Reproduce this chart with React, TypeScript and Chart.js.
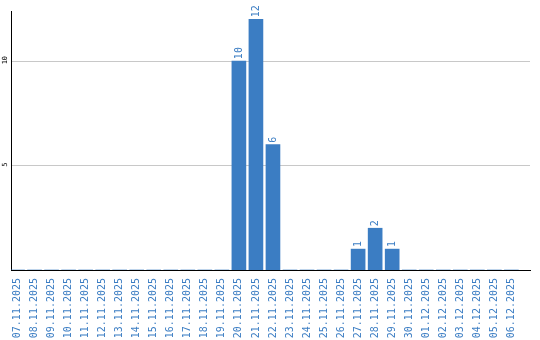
import React, { useEffect, useRef } from "react";
import { Chart, registerables } from "chart.js";

Chart.register(...registerables);

const categories = [
  "07.11.2025", "08.11.2025", "09.11.2025", "10.11.2025", "11.11.2025", "12.11.2025",
  "13.11.2025", "14.11.2025", "15.11.2025", "16.11.2025", "17.11.2025", "18.11.2025",
  "19.11.2025", "20.11.2025", "21.11.2025", "22.11.2025", "23.11.2025", "24.11.2025",
  "25.11.2025", "26.11.2025", "27.11.2025", "28.11.2025", "29.11.2025", "30.11.2025",
  "01.12.2025", "02.12.2025", "03.12.2025", "04.12.2025", "05.12.2025", "06.12.2025",
];
const values = [0, 0, 0, 0, 0, 0, 0, 0, 0, 0, 0, 0, 0, 10, 12, 6, 0, 0, 0, 0, 1, 2, 1, 0, 0, 0, 0, 0, 0, 0];
const yTicks = [5, 10];

const BLUE = "#3b7dc3";
const FONT = "'DejaVu Sans Mono', monospace";

export default function App() {
  const ref = useRef<HTMLCanvasElement | null>(null);
  useEffect(() => {
    document.body.style.margin = "0";
    const canvas = ref.current!;
    const labelPlugin = {
      id: "customLabels",
      afterDatasetsDraw(chart: any) {
        const ctx = chart.ctx;
        const meta = chart.getDatasetMeta(0);
        ctx.save();
        ctx.font = `10px ${FONT}`;
        ctx.fillStyle = BLUE;
        ctx.textAlign = "left";
        ctx.textBaseline = "middle";
        meta.data.forEach((el: any, i: number) => {
          const v = values[i];
          if (!v) return;
          ctx.save();
          ctx.translate(el.x + 0.5, el.y - 2);
          ctx.rotate(-Math.PI / 2);
          ctx.fillText(String(v), 0, 0);
          ctx.restore();
        });
        const ys = chart.scales.y;
        ctx.fillStyle = "#000";
        ctx.font = `7px ${FONT}`;
        ctx.textAlign = "center";
        yTicks.forEach((t) => {
          ctx.save();
          ctx.translate(5.5, ys.getPixelForValue(t) - 1);
          ctx.rotate(-Math.PI / 2);
          ctx.fillText(String(t), 0, 0);
          ctx.restore();
        });
        ctx.restore();
      },
    };
    const chart = new Chart(canvas, {
      type: "bar",
      data: {
        datasets: [
          {
            data: values.map((v, i) => ({ x: i, y: v })),
            backgroundColor: BLUE,
            barThickness: 14,
          },
        ],
      },
      options: {
        animation: false,
        responsive: false,
        maintainAspectRatio: false,
        layout: { padding: { left: 11, right: 10, top: 11, bottom: 0 } },
        plugins: { legend: { display: false }, tooltip: { enabled: false } },
        scales: {
          x: {
            type: "linear",
            offset: false,
            min: -0.382,
            max: 30.093,
            afterBuildTicks: (axis: any) => {
              axis.ticks = categories.map((_, i) => ({ value: i }));
            },
            afterFit: (axis: any) => {
              axis.height = 70;
              axis.paddingLeft = 0;
              axis.paddingRight = 0;
            },
            grid: { display: false, drawTicks: false, offset: false },
            border: { display: true, color: "#000", width: 1 },
            ticks: {
              autoSkip: false,
              maxRotation: 90,
              minRotation: 90,
              padding: 8,
              color: BLUE,
              font: { family: FONT, size: 10 },
              callback: (v: any) => categories[v as number] ?? "",
            },
          },
          y: {
            min: 0,
            max: 12.4,
            afterBuildTicks: (axis: any) => {
              axis.ticks = yTicks.map((v) => ({ value: v }));
            },
            afterFit: (axis: any) => {
              axis.width = 0;
            },
            grid: { color: "#c8c8c8", lineWidth: 1, drawTicks: false },
            border: { display: true, color: "#000", width: 1 },
            ticks: { display: false },
          },
        },
      },
      plugins: [labelPlugin],
    });
    return () => chart.destroy();
  }, []);
  return <canvas ref={ref} width={540} height={340} style={{ display: "block" }} />;
}
